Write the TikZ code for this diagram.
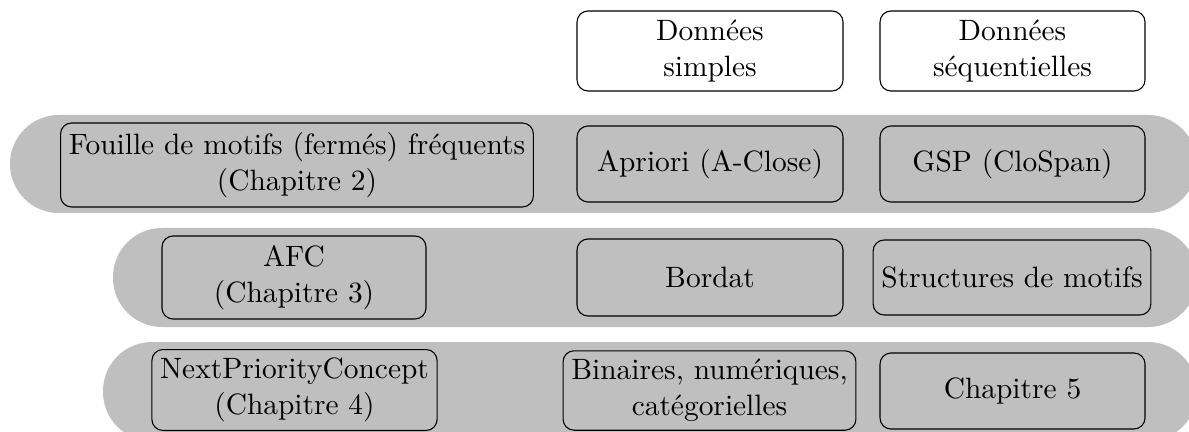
\documentclass[tikz,border=0pt]{standalone}
\usepackage{fontspec}
\begin{document}
\begin{tikzpicture}[x=0.363636pt,y=-0.363636pt,
  font=\fontsize{10.7}{13.2}\selectfont,
  bandfill/.style={fill=black!25},
  cell/.style={draw, rounded corners=4pt, align=center, inner sep=3pt},
  header/.style={cell, fill=white},
  boxw/.style={minimum width=#1*0.363636pt},
  boxh/.style={minimum height=#1*0.363636pt}]
\useasboundingbox (0,0) rectangle (1189,432);
\begin{scope}
  \clip (0,0) rectangle (1189,432);
  % one grey band per method row
  \fill[bandfill, rounded corners=17.8pt] (10,115) rectangle (1197,213);
  \fill[bandfill, rounded corners=17.8pt] (113,228) rectangle (1197,327);
  \fill[bandfill, rounded corners=17.8pt] (103,342) rectangle (1197,441);
\end{scope}

% column headers
\node[header, boxw=266, boxh=80] (simple) at (710,51) {Données\\simples};
\node[header, boxw=265, boxh=80] (seq) at (1012.5,51) {Données\\séquentielles};

% row 1
\node[cell, boxh=84, anchor=west] (fouille) at (60,165) {Fouille de motifs (fermés) fréquents\\(Chapitre 2)};
\node[cell, boxw=266, boxh=76] (apriori) at (710,164) {Apriori (A-Close)};
\node[cell, boxw=265, boxh=76] (gsp) at (1012.5,164) {GSP (CloSpan)};

% row 2
\node[cell, boxw=264, boxh=83] (afc) at (294,277.5) {AFC\\(Chapitre 3)};
\node[cell, boxw=266, boxh=77] (bordat) at (710,277.5) {Bordat};
\node[cell, boxw=276, boxh=75] (struct) at (1012,277.5) {Structures de motifs};

% row 3
\node[cell, boxw=285, boxh=80] (npc) at (294.5,390) {NextPriorityConcept\\(Chapitre 4)};
\node[cell, boxw=291, boxh=79] (bin) at (709.5,390.5) {Binaires, numériques,\\catégorielles};
\node[cell, boxw=265, boxh=76] (ch5) at (1012.5,391) {Chapitre 5};
\end{tikzpicture}
\end{document}
